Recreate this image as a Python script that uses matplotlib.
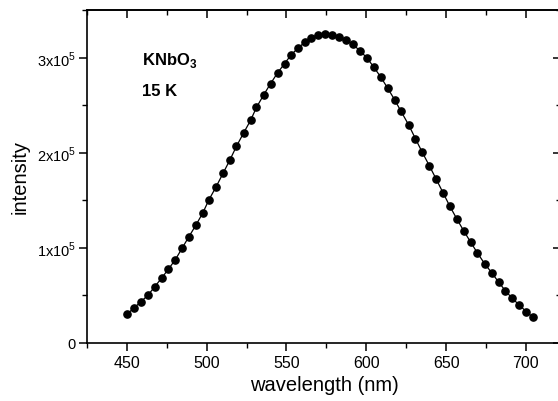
import matplotlib
matplotlib.use("Agg")
import matplotlib.pyplot as plt
from matplotlib.ticker import MultipleLocator, FixedLocator, NullFormatter

plt.rcParams['font.family'] = ['Liberation Sans', 'DejaVu Sans']
plt.rcParams['mathtext.fontset'] = 'custom'
plt.rcParams['mathtext.rm'] = 'Liberation Sans'
plt.rcParams['mathtext.bf'] = 'Liberation Sans:bold'

# data (wavelength in nm, intensity in units of 1e5)
wavelength = [450.2, 454.4, 458.9, 463.3, 467.5, 471.7, 476.0, 480.4, 484.6, 488.7,
              493.1, 497.5, 501.3, 505.8, 510.2, 514.6, 518.6, 523.1, 527.5, 531.2,
              535.8, 540.0, 544.4, 548.8, 552.9, 557.3, 561.5, 565.6, 569.8, 574.2,
              578.6, 582.7, 587.1, 591.5, 596.1, 600.4, 604.6, 609.0, 613.3, 617.7,
              621.6, 626.7, 630.8, 635.0, 639.6, 643.9, 648.1, 652.3, 656.7, 661.0,
              665.4, 669.6, 674.2, 678.8, 682.9, 687.1, 691.4, 695.8, 700.2, 704.4]
intensity = [0.305, 0.368, 0.435, 0.505, 0.593, 0.681, 0.776, 0.877, 0.997, 1.113,
             1.235, 1.365, 1.502, 1.639, 1.782, 1.926, 2.066, 2.207, 2.340, 2.477,
             2.610, 2.726, 2.839, 2.937, 3.028, 3.102, 3.161, 3.210, 3.239, 3.253,
             3.242, 3.218, 3.186, 3.140, 3.070, 2.997, 2.902, 2.797, 2.681, 2.558,
             2.440, 2.288, 2.147, 2.007, 1.860, 1.719, 1.579, 1.439, 1.305, 1.180,
             1.060, 0.947, 0.832, 0.734, 0.640, 0.550, 0.470, 0.400, 0.330, 0.270]
intensity = [v * 1e5 for v in intensity]

x_ticks = [450, 500, 550, 600, 650, 700]
y_ticks = [0, 1e5, 2e5, 3e5]
y_ticklabels = ['0', r'1x10$^5$', r'2x10$^5$', r'3x10$^5$']

fig = plt.figure(figsize=(5.58, 4.02), dpi=100)
ax = fig.add_axes([87 / 558, 1 - 344 / 402, (561 - 87) / 558, (344 - 11) / 402])

ax.plot(wavelength, intensity, color='black', lw=0.9, marker='o', ms=5.2,
        markerfacecolor='black', markeredgecolor='black')

ax.set_xlim(425, 722)
ax.set_ylim(0, 3.5e5)

ax.xaxis.set_major_locator(FixedLocator(x_ticks))
ax.xaxis.set_minor_locator(MultipleLocator(25))
ax.yaxis.set_major_locator(FixedLocator(y_ticks))
ax.yaxis.set_minor_locator(MultipleLocator(0.5e5))
ax.set_yticklabels(y_ticklabels)

ax.tick_params(axis='both', which='major', direction='out', length=6, width=1.1,
               labelsize=11.5)
ax.tick_params(axis='both', which='minor', direction='out', length=3.5, width=1.0)
ax.tick_params(axis='y', labelsize=10.5, pad=2)
ax.tick_params(axis='x', pad=3)

# inward ticks on the top and right sides
top = ax.secondary_xaxis('top')
top.xaxis.set_major_locator(FixedLocator(x_ticks))
top.xaxis.set_minor_locator(MultipleLocator(25))
top.xaxis.set_major_formatter(NullFormatter())
top.tick_params(which='major', direction='in', length=6, width=1.1)
top.tick_params(which='minor', direction='in', length=3.5, width=1.0)
right = ax.secondary_yaxis('right')
right.yaxis.set_major_locator(FixedLocator(y_ticks))
right.yaxis.set_minor_locator(MultipleLocator(0.5e5))
right.yaxis.set_major_formatter(NullFormatter())
right.tick_params(which='major', direction='in', length=6, width=1.1)
right.tick_params(which='minor', direction='in', length=3.5, width=1.0)

for s in ax.spines.values():
    s.set_linewidth(1.2)
top.spines['top'].set_linewidth(1.2)
right.spines['right'].set_linewidth(1.2)

ax.set_xlabel('wavelength (nm)', fontsize=14.5, labelpad=3)
ax.set_ylabel('intensity', fontsize=14.5, labelpad=5)

ax.text(0.115, 0.85, r'KNbO$_\mathbf{3}$', transform=ax.transAxes, fontsize=12,
        fontweight='bold', va='center', ha='left')
ax.text(0.115, 0.757, '15 K', transform=ax.transAxes, fontsize=12,
        fontweight='bold', va='center', ha='left')

fig.savefig('out.png', dpi=100)
